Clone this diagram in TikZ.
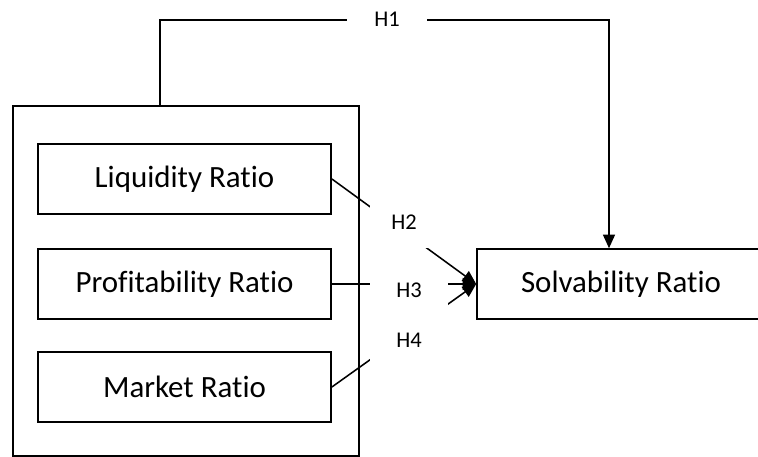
\documentclass[tikz,border=0pt]{standalone}
\usepackage{fontspec}
\setmainfont{Carlito}[Ligatures=NoCommon]
\usetikzlibrary{arrows.meta}
\begin{document}
\begin{tikzpicture}[x=0.025cm,y=-0.025cm,line join=miter,line width=1.1pt,
	>={Triangle[length=3.4mm,width=3mm]},
	ratio/.style={draw,minimum width=7.33cm,minimum height=1.75cm,
		font=\fontsize{22}{26}\selectfont},
	hyp/.style={fill=white,inner sep=0pt,font=\fontsize{16}{19}\selectfont}]
	\clip (0,0) rectangle (758,457);
	% group of ratios
	\node[draw,minimum width=8.65cm,minimum height=8.75cm] (grp) at (186,281) {};
	\node[ratio] (liq) at (184.5,179) {Liquidity Ratio};
	\node[ratio] (prof) at (184.5,284) {Profitability Ratio};
	\node[ratio] (mark) at (184.5,387) {Market Ratio};
	\node[ratio,minimum width=7.2cm] (solv) at (621,284) {Solvability Ratio};
	% hypotheses
	\coordinate (h1l) at (160,20);
	\coordinate (h1r) at (609,20);
	\draw[->] (grp.north -| h1l)--(h1l)--(h1r)--(solv.north -| h1r);
	\draw[->] (liq.east)--(solv.west);
	\draw[->] (prof.east)--(solv.west);
	\draw[->] (mark.east)--(solv.west);
	\node[hyp,minimum width=1.98cm,minimum height=0.5cm] (h1) at (387,19) {H1};
	\node[hyp,minimum width=1.7cm,minimum height=1.3cm] (h2) at (404,222) {H2};
	\node[hyp,minimum width=1.95cm,minimum height=1.1cm] (h3) at (409,290) {H3};
	\node[hyp,minimum width=1.95cm,minimum height=1.4cm] (h4) at (409,340) {H4};
\end{tikzpicture}
\end{document}
